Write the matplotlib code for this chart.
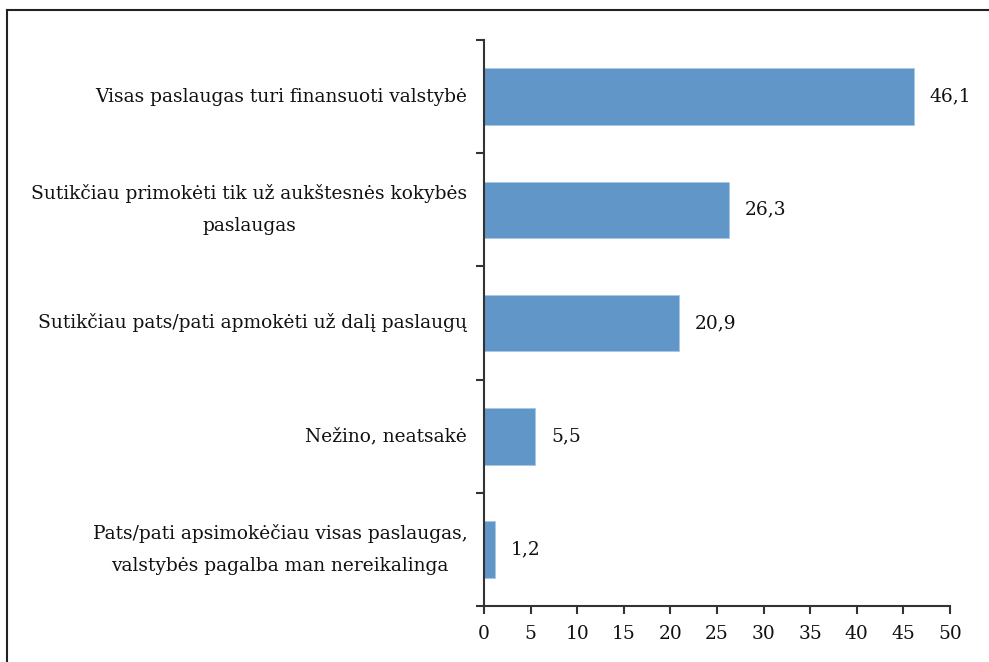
import numpy as np
import matplotlib.pyplot as plt
from matplotlib.lines import Line2D

categories = [
    "Visas paslaugas turi finansuoti valstybė",
    "Sutikčiau primokėti tik už aukštesnės kokybės\npaslaugas",
    "Sutikčiau pats/pati apmokėti už dalį paslaugų",
    "Nežino, neatsakė",
    "Pats/pati apsimokėčiau visas paslaugas,\nvalstybės pagalba man nereikalinga",
]
values = [46.1, 26.3, 20.9, 5.5, 1.2]
value_labels = ["46,1", "26,3", "20,9", "5,5", "1,2"]
x_ticks = [0, 5, 10, 15, 20, 25, 30, 35, 40, 45, 50]

plt.rcParams["font.family"] = ["DejaVu Serif"]
axis_color = "#333333"
fs = 13.4

fig = plt.figure(figsize=(9.89, 6.62), dpi=100)
ax = fig.add_axes([484 / 989, 1 - 606 / 662, (950 - 484) / 989, (606 - 40) / 662])

y = np.arange(len(categories))
ax.barh(y, values, height=0.5, color="#6096C8", edgecolor="#A9C8E6", linewidth=0.6)
ax.set_ylim(len(categories) - 0.5, -0.5)
ax.set_xlim(0, 50)

for yi, v, lab in zip(y, values, value_labels):
    ax.annotate(lab, (v, yi), xytext=(16, 0), textcoords="offset pixels",
                va="center", ha="left", fontsize=fs, color="#111111")

ax.set_yticks(y)
ax.set_yticklabels(categories, fontsize=fs, multialignment="center",
                   linespacing=2.0, color="#111111", va="center")
ax.tick_params(axis="y", which="major", length=0, pad=12)
ax.set_yticks(np.arange(-0.5, len(categories), 1.0), minor=True)
ax.tick_params(axis="y", which="minor", length=6, width=1.5, color=axis_color, direction="out")

ax.set_xticks(x_ticks)
ax.set_xticklabels([str(t) for t in x_ticks], fontsize=fs, color="#111111")
ax.tick_params(axis="x", length=6, width=1.5, color=axis_color, direction="out", pad=8)

for side in ("top", "right"):
    ax.spines[side].set_visible(False)
for side in ("left", "bottom"):
    ax.spines[side].set_linewidth(1.5)
    ax.spines[side].set_color(axis_color)

# outer frame (only top and left edges are visible in the crop)
fig.add_artist(Line2D([7 / 989, 1.0], [1 - 10 / 662, 1 - 10 / 662], color="#222222", linewidth=1.5))
fig.add_artist(Line2D([7 / 989, 7 / 989], [0.0, 1 - 10 / 662], color="#222222", linewidth=1.5))

fig.savefig("out.png", dpi=100)
